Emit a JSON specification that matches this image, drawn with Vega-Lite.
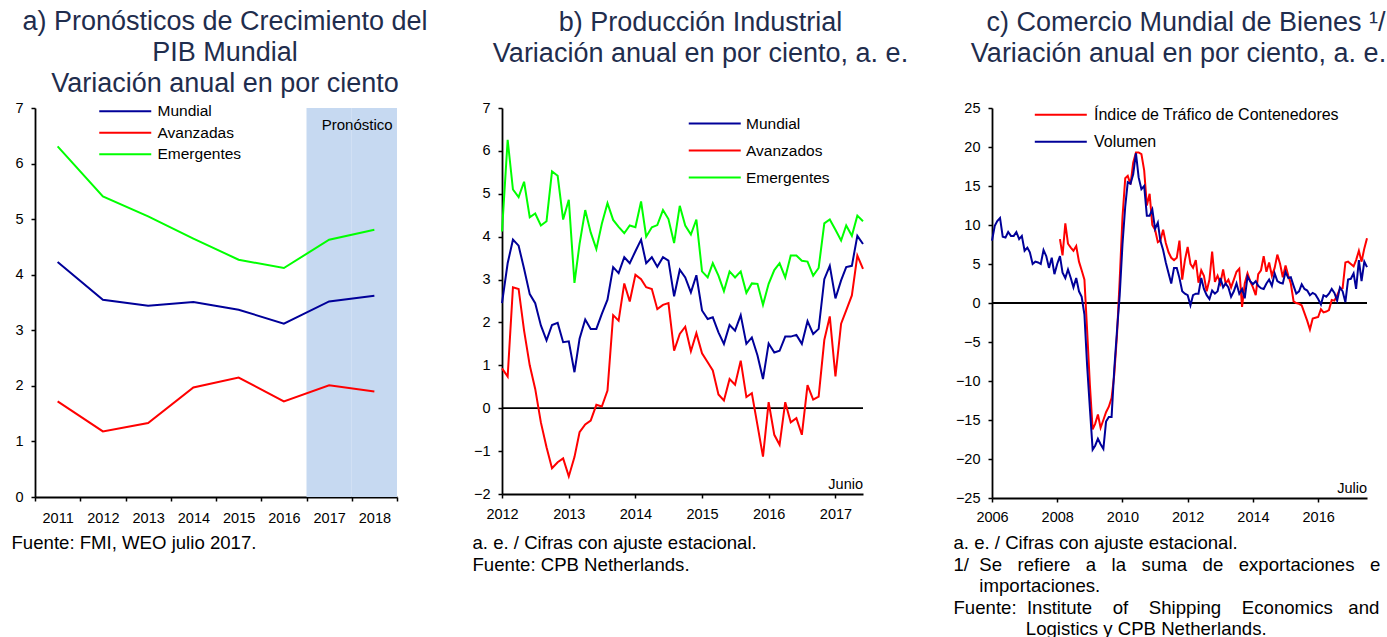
{
  "$schema": "https://vega.github.io/schema/vega-lite/v6.json",
  "background": "white",
  "padding": {"left": 11, "top": 8, "right": 0, "bottom": 0},
  "spacing": 44,
  "bounds": "full",
  "datasets": {
    "pib": [
      {"anio": "2011", "Mundial": 4.23, "Avanzadas": 1.72, "Emergentes": 6.31},
      {"anio": "2012", "Mundial": 3.55, "Avanzadas": 1.18, "Emergentes": 5.41},
      {"anio": "2013", "Mundial": 3.44, "Avanzadas": 1.33, "Emergentes": 5.05},
      {"anio": "2014", "Mundial": 3.51, "Avanzadas": 1.97, "Emergentes": 4.65},
      {"anio": "2015", "Mundial": 3.37, "Avanzadas": 2.15, "Emergentes": 4.27},
      {"anio": "2016", "Mundial": 3.12, "Avanzadas": 1.72, "Emergentes": 4.12},
      {"anio": "2017", "Mundial": 3.52, "Avanzadas": 2.01, "Emergentes": 4.63},
      {"anio": "2018", "Mundial": 3.62, "Avanzadas": 1.90, "Emergentes": 4.81}
    ],
    "pronostico": [
      {"anio": "2017", "etiqueta": "Pronóstico"},
      {"anio": "2018", "etiqueta": "Pronóstico"}
    ],
    "industrial": [
      {"fecha": "2012-01-01", "Mundial": 2.45, "Avanzados": 0.93, "Emergentes": 4.12},
      {"fecha": "2012-02-01", "Mundial": 3.38, "Avanzados": 0.74, "Emergentes": 6.26},
      {"fecha": "2012-03-01", "Mundial": 3.93, "Avanzados": 2.82, "Emergentes": 5.10},
      {"fecha": "2012-04-01", "Mundial": 3.79, "Avanzados": 2.78, "Emergentes": 4.92},
      {"fecha": "2012-05-01", "Mundial": 3.25, "Avanzados": 1.81, "Emergentes": 5.28},
      {"fecha": "2012-06-01", "Mundial": 2.66, "Avanzados": 1.00, "Emergentes": 4.45},
      {"fecha": "2012-07-01", "Mundial": 2.45, "Avanzados": 0.45, "Emergentes": 4.54},
      {"fecha": "2012-08-01", "Mundial": 1.93, "Avanzados": -0.33, "Emergentes": 4.26},
      {"fecha": "2012-09-01", "Mundial": 1.58, "Avanzados": -0.91, "Emergentes": 4.36},
      {"fecha": "2012-10-01", "Mundial": 1.94, "Avanzados": -1.40, "Emergentes": 5.52},
      {"fecha": "2012-11-01", "Mundial": 1.99, "Avanzados": -1.26, "Emergentes": 5.42},
      {"fecha": "2012-12-01", "Mundial": 1.54, "Avanzados": -1.17, "Emergentes": 4.40},
      {"fecha": "2013-01-01", "Mundial": 1.56, "Avanzados": -1.59, "Emergentes": 4.86},
      {"fecha": "2013-02-01", "Mundial": 0.84, "Avanzados": -1.14, "Emergentes": 2.92},
      {"fecha": "2013-03-01", "Mundial": 1.62, "Avanzados": -0.56, "Emergentes": 3.83},
      {"fecha": "2013-04-01", "Mundial": 2.07, "Avanzados": -0.38, "Emergentes": 4.62},
      {"fecha": "2013-05-01", "Mundial": 1.85, "Avanzados": -0.29, "Emergentes": 4.10},
      {"fecha": "2013-06-01", "Mundial": 1.85, "Avanzados": 0.08, "Emergentes": 3.71},
      {"fecha": "2013-07-01", "Mundial": 2.20, "Avanzados": 0.04, "Emergentes": 4.30},
      {"fecha": "2013-08-01", "Mundial": 2.53, "Avanzados": 0.41, "Emergentes": 4.78},
      {"fecha": "2013-09-01", "Mundial": 3.29, "Avanzados": 2.17, "Emergentes": 4.39},
      {"fecha": "2013-10-01", "Mundial": 3.15, "Avanzados": 2.04, "Emergentes": 4.23},
      {"fecha": "2013-11-01", "Mundial": 3.52, "Avanzados": 2.91, "Emergentes": 4.08},
      {"fecha": "2013-12-01", "Mundial": 3.38, "Avanzados": 2.49, "Emergentes": 4.26},
      {"fecha": "2014-01-01", "Mundial": 3.66, "Avanzados": 3.11, "Emergentes": 4.22},
      {"fecha": "2014-02-01", "Mundial": 3.93, "Avanzados": 3.01, "Emergentes": 4.82},
      {"fecha": "2014-03-01", "Mundial": 3.38, "Avanzados": 2.82, "Emergentes": 4.00},
      {"fecha": "2014-04-01", "Mundial": 3.52, "Avanzados": 2.78, "Emergentes": 4.22},
      {"fecha": "2014-05-01", "Mundial": 3.30, "Avanzados": 2.31, "Emergentes": 4.27},
      {"fecha": "2014-06-01", "Mundial": 3.52, "Avanzados": 2.41, "Emergentes": 4.62},
      {"fecha": "2014-07-01", "Mundial": 3.44, "Avanzados": 2.45, "Emergentes": 4.41},
      {"fecha": "2014-08-01", "Mundial": 2.61, "Avanzados": 1.34, "Emergentes": 3.85},
      {"fecha": "2014-09-01", "Mundial": 3.23, "Avanzados": 1.73, "Emergentes": 4.72},
      {"fecha": "2014-10-01", "Mundial": 3.05, "Avanzados": 1.90, "Emergentes": 4.26},
      {"fecha": "2014-11-01", "Mundial": 2.70, "Avanzados": 1.33, "Emergentes": 4.05},
      {"fecha": "2014-12-01", "Mundial": 3.10, "Avanzados": 1.75, "Emergentes": 4.40},
      {"fecha": "2015-01-01", "Mundial": 2.28, "Avanzados": 1.28, "Emergentes": 3.19},
      {"fecha": "2015-02-01", "Mundial": 2.08, "Avanzados": 1.07, "Emergentes": 3.05},
      {"fecha": "2015-03-01", "Mundial": 2.12, "Avanzados": 0.88, "Emergentes": 3.38},
      {"fecha": "2015-04-01", "Mundial": 1.77, "Avanzados": 0.32, "Emergentes": 3.09},
      {"fecha": "2015-05-01", "Mundial": 1.50, "Avanzados": 0.18, "Emergentes": 2.73},
      {"fecha": "2015-06-01", "Mundial": 1.94, "Avanzados": 0.68, "Emergentes": 3.19},
      {"fecha": "2015-07-01", "Mundial": 1.81, "Avanzados": 0.55, "Emergentes": 3.05},
      {"fecha": "2015-08-01", "Mundial": 2.17, "Avanzados": 1.11, "Emergentes": 3.19},
      {"fecha": "2015-09-01", "Mundial": 1.50, "Avanzados": 0.26, "Emergentes": 2.69},
      {"fecha": "2015-10-01", "Mundial": 1.65, "Avanzados": 0.35, "Emergentes": 2.91},
      {"fecha": "2015-11-01", "Mundial": 1.23, "Avanzados": -0.40, "Emergentes": 2.90},
      {"fecha": "2015-12-01", "Mundial": 0.68, "Avanzados": -1.13, "Emergentes": 2.41},
      {"fecha": "2016-01-01", "Mundial": 1.51, "Avanzados": 0.14, "Emergentes": 2.90},
      {"fecha": "2016-02-01", "Mundial": 1.30, "Avanzados": -0.62, "Emergentes": 3.22},
      {"fecha": "2016-03-01", "Mundial": 1.34, "Avanzados": -0.85, "Emergentes": 3.38},
      {"fecha": "2016-04-01", "Mundial": 1.67, "Avanzados": 0.14, "Emergentes": 3.05},
      {"fecha": "2016-05-01", "Mundial": 1.67, "Avanzados": -0.33, "Emergentes": 3.56},
      {"fecha": "2016-06-01", "Mundial": 1.71, "Avanzados": -0.23, "Emergentes": 3.56},
      {"fecha": "2016-07-01", "Mundial": 1.50, "Avanzados": -0.62, "Emergentes": 3.44},
      {"fecha": "2016-08-01", "Mundial": 2.03, "Avanzados": 0.54, "Emergentes": 3.42},
      {"fecha": "2016-09-01", "Mundial": 1.73, "Avanzados": 0.20, "Emergentes": 3.09},
      {"fecha": "2016-10-01", "Mundial": 1.85, "Avanzados": 0.27, "Emergentes": 3.27},
      {"fecha": "2016-11-01", "Mundial": 3.01, "Avanzados": 1.59, "Emergentes": 4.31},
      {"fecha": "2016-12-01", "Mundial": 3.32, "Avanzados": 2.14, "Emergentes": 4.40},
      {"fecha": "2017-01-01", "Mundial": 2.56, "Avanzados": 0.74, "Emergentes": 4.16},
      {"fecha": "2017-02-01", "Mundial": 2.98, "Avanzados": 1.97, "Emergentes": 3.91},
      {"fecha": "2017-03-01", "Mundial": 3.29, "Avanzados": 2.28, "Emergentes": 4.26},
      {"fecha": "2017-04-01", "Mundial": 3.32, "Avanzados": 2.63, "Emergentes": 4.02},
      {"fecha": "2017-05-01", "Mundial": 4.02, "Avanzados": 3.56, "Emergentes": 4.49},
      {"fecha": "2017-06-01", "Mundial": 3.83, "Avanzados": 3.25, "Emergentes": 4.36}
    ],
    "comercio": [
      {"fecha": "2006-01-01", "Volumen": 8.0, "ITC": null},
      {"fecha": "2006-02-01", "Volumen": 9.9, "ITC": null},
      {"fecha": "2006-03-01", "Volumen": 10.5, "ITC": null},
      {"fecha": "2006-04-01", "Volumen": 10.9, "ITC": null},
      {"fecha": "2006-05-01", "Volumen": 8.5, "ITC": null},
      {"fecha": "2006-06-01", "Volumen": 8.4, "ITC": null},
      {"fecha": "2006-07-01", "Volumen": 9.1, "ITC": null},
      {"fecha": "2006-08-01", "Volumen": 8.6, "ITC": null},
      {"fecha": "2006-09-01", "Volumen": 8.6, "ITC": null},
      {"fecha": "2006-10-01", "Volumen": 9.1, "ITC": null},
      {"fecha": "2006-11-01", "Volumen": 8.2, "ITC": null},
      {"fecha": "2006-12-01", "Volumen": 8.6, "ITC": null},
      {"fecha": "2007-01-01", "Volumen": 6.7, "ITC": null},
      {"fecha": "2007-02-01", "Volumen": 7.1, "ITC": null},
      {"fecha": "2007-03-01", "Volumen": 6.5, "ITC": null},
      {"fecha": "2007-04-01", "Volumen": 5.0, "ITC": null},
      {"fecha": "2007-05-01", "Volumen": 5.3, "ITC": null},
      {"fecha": "2007-06-01", "Volumen": 5.2, "ITC": null},
      {"fecha": "2007-07-01", "Volumen": 5.0, "ITC": null},
      {"fecha": "2007-08-01", "Volumen": 6.8, "ITC": null},
      {"fecha": "2007-09-01", "Volumen": 6.0, "ITC": null},
      {"fecha": "2007-10-01", "Volumen": 4.5, "ITC": null},
      {"fecha": "2007-11-01", "Volumen": 5.8, "ITC": null},
      {"fecha": "2007-12-01", "Volumen": 3.7, "ITC": null},
      {"fecha": "2008-01-01", "Volumen": 5.0, "ITC": null},
      {"fecha": "2008-02-01", "Volumen": 6.0, "ITC": 8.2},
      {"fecha": "2008-03-01", "Volumen": 3.9, "ITC": 6.1},
      {"fecha": "2008-04-01", "Volumen": 3.2, "ITC": 10.2},
      {"fecha": "2008-05-01", "Volumen": 4.3, "ITC": 7.6},
      {"fecha": "2008-06-01", "Volumen": 3.2, "ITC": 7.1},
      {"fecha": "2008-07-01", "Volumen": 2.0, "ITC": 6.7},
      {"fecha": "2008-08-01", "Volumen": 3.2, "ITC": 7.3},
      {"fecha": "2008-09-01", "Volumen": 1.5, "ITC": 5.3},
      {"fecha": "2008-10-01", "Volumen": 0.8, "ITC": 4.2},
      {"fecha": "2008-11-01", "Volumen": -1.5, "ITC": 3.0},
      {"fecha": "2008-12-01", "Volumen": -8.0, "ITC": -3.5},
      {"fecha": "2009-01-01", "Volumen": -13.5, "ITC": -10.5},
      {"fecha": "2009-02-01", "Volumen": -18.8, "ITC": -16.2},
      {"fecha": "2009-03-01", "Volumen": -18.3, "ITC": -15.5},
      {"fecha": "2009-04-01", "Volumen": -17.4, "ITC": -14.3},
      {"fecha": "2009-05-01", "Volumen": -18.1, "ITC": -16.0},
      {"fecha": "2009-06-01", "Volumen": -18.7, "ITC": -15.0},
      {"fecha": "2009-07-01", "Volumen": -15.2, "ITC": -14.0},
      {"fecha": "2009-08-01", "Volumen": -14.6, "ITC": -13.3},
      {"fecha": "2009-09-01", "Volumen": -14.6, "ITC": -12.2},
      {"fecha": "2009-10-01", "Volumen": -8.5, "ITC": -9.2},
      {"fecha": "2009-11-01", "Volumen": -3.5, "ITC": -4.0},
      {"fecha": "2009-12-01", "Volumen": 1.0, "ITC": 3.0},
      {"fecha": "2010-01-01", "Volumen": 7.5, "ITC": 11.0},
      {"fecha": "2010-02-01", "Volumen": 12.4, "ITC": 16.0},
      {"fecha": "2010-03-01", "Volumen": 15.5, "ITC": 16.3},
      {"fecha": "2010-04-01", "Volumen": 15.3, "ITC": 15.2},
      {"fecha": "2010-05-01", "Volumen": 16.5, "ITC": 18.0},
      {"fecha": "2010-06-01", "Volumen": 19.2, "ITC": 19.3},
      {"fecha": "2010-07-01", "Volumen": 16.1, "ITC": 19.3},
      {"fecha": "2010-08-01", "Volumen": 14.6, "ITC": 19.1},
      {"fecha": "2010-09-01", "Volumen": 15.0, "ITC": 17.0},
      {"fecha": "2010-10-01", "Volumen": 11.2, "ITC": 12.5},
      {"fecha": "2010-11-01", "Volumen": 11.2, "ITC": 14.0},
      {"fecha": "2010-12-01", "Volumen": 12.0, "ITC": 10.0},
      {"fecha": "2011-01-01", "Volumen": 9.5, "ITC": 9.4},
      {"fecha": "2011-02-01", "Volumen": 10.3, "ITC": 7.8},
      {"fecha": "2011-03-01", "Volumen": 8.0, "ITC": 8.0},
      {"fecha": "2011-04-01", "Volumen": 6.8, "ITC": 9.4},
      {"fecha": "2011-05-01", "Volumen": 5.2, "ITC": 7.7},
      {"fecha": "2011-06-01", "Volumen": 3.8, "ITC": 6.5},
      {"fecha": "2011-07-01", "Volumen": 2.5, "ITC": 5.8},
      {"fecha": "2011-08-01", "Volumen": 4.5, "ITC": 5.5},
      {"fecha": "2011-09-01", "Volumen": 4.5, "ITC": 5.8},
      {"fecha": "2011-10-01", "Volumen": 3.2, "ITC": 8.0},
      {"fecha": "2011-11-01", "Volumen": 1.5, "ITC": 3.0},
      {"fecha": "2011-12-01", "Volumen": 1.2, "ITC": 5.5},
      {"fecha": "2012-01-01", "Volumen": 1.0, "ITC": 7.2},
      {"fecha": "2012-02-01", "Volumen": -0.3, "ITC": 5.0},
      {"fecha": "2012-03-01", "Volumen": 1.0, "ITC": 4.5},
      {"fecha": "2012-04-01", "Volumen": 1.2, "ITC": 5.5},
      {"fecha": "2012-05-01", "Volumen": 1.2, "ITC": 2.6},
      {"fecha": "2012-06-01", "Volumen": 3.2, "ITC": 4.2},
      {"fecha": "2012-07-01", "Volumen": 1.8, "ITC": 3.5},
      {"fecha": "2012-08-01", "Volumen": 1.0, "ITC": 1.5},
      {"fecha": "2012-09-01", "Volumen": 0.5, "ITC": 3.0},
      {"fecha": "2012-10-01", "Volumen": 1.6, "ITC": 6.6},
      {"fecha": "2012-11-01", "Volumen": 1.2, "ITC": 2.7},
      {"fecha": "2012-12-01", "Volumen": 1.5, "ITC": 3.5},
      {"fecha": "2013-01-01", "Volumen": 3.2, "ITC": 2.5},
      {"fecha": "2013-02-01", "Volumen": 2.0, "ITC": 4.3},
      {"fecha": "2013-03-01", "Volumen": 2.5, "ITC": 2.5},
      {"fecha": "2013-04-01", "Volumen": 2.0, "ITC": 3.0},
      {"fecha": "2013-05-01", "Volumen": 0.8, "ITC": 2.0},
      {"fecha": "2013-06-01", "Volumen": 1.5, "ITC": 3.0},
      {"fecha": "2013-07-01", "Volumen": 2.5, "ITC": 4.0},
      {"fecha": "2013-08-01", "Volumen": 1.2, "ITC": 4.4},
      {"fecha": "2013-09-01", "Volumen": 1.8, "ITC": -0.5},
      {"fecha": "2013-10-01", "Volumen": 0.6, "ITC": 2.5},
      {"fecha": "2013-11-01", "Volumen": 3.4, "ITC": 3.8},
      {"fecha": "2013-12-01", "Volumen": 2.8, "ITC": 2.8},
      {"fecha": "2014-01-01", "Volumen": 2.4, "ITC": 2.0},
      {"fecha": "2014-02-01", "Volumen": 2.8, "ITC": 1.0},
      {"fecha": "2014-03-01", "Volumen": 2.2, "ITC": 3.7},
      {"fecha": "2014-04-01", "Volumen": 1.9, "ITC": 4.2},
      {"fecha": "2014-05-01", "Volumen": 1.8, "ITC": 6.0},
      {"fecha": "2014-06-01", "Volumen": 2.5, "ITC": 4.0},
      {"fecha": "2014-07-01", "Volumen": 3.0, "ITC": 5.2},
      {"fecha": "2014-08-01", "Volumen": 2.2, "ITC": 3.5},
      {"fecha": "2014-09-01", "Volumen": 3.8, "ITC": 4.5},
      {"fecha": "2014-10-01", "Volumen": 2.8, "ITC": 6.2},
      {"fecha": "2014-11-01", "Volumen": 2.6, "ITC": 5.0},
      {"fecha": "2014-12-01", "Volumen": 2.5, "ITC": 3.3},
      {"fecha": "2015-01-01", "Volumen": 4.0, "ITC": 4.8},
      {"fecha": "2015-02-01", "Volumen": 3.2, "ITC": 3.5},
      {"fecha": "2015-03-01", "Volumen": 3.3, "ITC": 2.5},
      {"fecha": "2015-04-01", "Volumen": 2.2, "ITC": 0.2},
      {"fecha": "2015-05-01", "Volumen": 1.2, "ITC": 0.0},
      {"fecha": "2015-06-01", "Volumen": 1.5, "ITC": -0.1},
      {"fecha": "2015-07-01", "Volumen": 2.4, "ITC": -0.3},
      {"fecha": "2015-08-01", "Volumen": 1.8, "ITC": -1.3},
      {"fecha": "2015-09-01", "Volumen": 1.6, "ITC": -2.3},
      {"fecha": "2015-10-01", "Volumen": 1.0, "ITC": -3.4},
      {"fecha": "2015-11-01", "Volumen": 1.3, "ITC": -2.0},
      {"fecha": "2015-12-01", "Volumen": 1.1, "ITC": -1.9},
      {"fecha": "2016-01-01", "Volumen": 0.5, "ITC": -1.8},
      {"fecha": "2016-02-01", "Volumen": -0.2, "ITC": -0.8},
      {"fecha": "2016-03-01", "Volumen": 1.0, "ITC": -1.2},
      {"fecha": "2016-04-01", "Volumen": 0.8, "ITC": -1.1},
      {"fecha": "2016-05-01", "Volumen": 1.2, "ITC": -0.9},
      {"fecha": "2016-06-01", "Volumen": 1.8, "ITC": 0.4},
      {"fecha": "2016-07-01", "Volumen": 1.3, "ITC": 0.3},
      {"fecha": "2016-08-01", "Volumen": 0.3, "ITC": 1.0},
      {"fecha": "2016-09-01", "Volumen": 2.0, "ITC": 1.8},
      {"fecha": "2016-10-01", "Volumen": 1.5, "ITC": 1.9},
      {"fecha": "2016-11-01", "Volumen": 0.1, "ITC": 5.2},
      {"fecha": "2016-12-01", "Volumen": 3.0, "ITC": 5.3},
      {"fecha": "2017-01-01", "Volumen": 3.1, "ITC": 5.0},
      {"fecha": "2017-02-01", "Volumen": 3.8, "ITC": 4.7},
      {"fecha": "2017-03-01", "Volumen": 1.8, "ITC": 5.5},
      {"fecha": "2017-04-01", "Volumen": 5.5, "ITC": 6.7},
      {"fecha": "2017-05-01", "Volumen": 2.8, "ITC": 5.3},
      {"fecha": "2017-06-01", "Volumen": 5.3, "ITC": 7.0},
      {"fecha": "2017-07-01", "Volumen": 4.6, "ITC": 8.3}
    ]
  },
  "resolve": {
    "scale": {"color": "independent", "x": "independent", "y": "independent"},
    "legend": {"color": "independent"}
  },
  "hconcat": [
    {
      "width": 362,
      "height": 389,
      "title": {
        "text": ["a) Pronósticos de Crecimiento del", "PIB Mundial", "Variación anual en por ciento"],
        "offset": 2,
        "dx": 9
      },
      "layer": [
        {
          "data": {"name": "pronostico"},
          "mark": {"type": "bar", "color": "#c6d9f1", "width": {"band": 1}},
          "encoding": {
            "x": {
              "field": "anio",
              "type": "ordinal",
              "scale": {"type": "band", "domain": ["2011", "2012", "2013", "2014", "2015", "2016", "2017", "2018"], "paddingInner": 0, "paddingOuter": 0},
              "axis": {
                "labelAngle": 0,
                "tickBand": "extent",
                "labelPadding": 10,
                "title": "Fuente: FMI, WEO julio 2017.",
                "titleAnchor": "start",
                "titleAlign": "left",
                "titleX": -24,
                "titlePadding": 9
              }
            },
            "y": {
              "datum": 7,
              "type": "quantitative",
              "scale": {"domain": [0, 7], "nice": false},
              "axis": {"values": [0, 1, 2, 3, 4, 5, 6, 7], "tickCount": 12, "format": "d", "labelOverlap": false, "title": null, "labelPadding": 8}
            }
          }
        },
        {
          "data": {"name": "pib"},
          "transform": [{"fold": ["Mundial", "Avanzadas", "Emergentes"], "as": ["serie", "valor"]}],
          "mark": {"type": "line", "strokeWidth": 2},
          "encoding": {
            "x": {"field": "anio", "type": "ordinal", "bandPosition": 0.5},
            "y": {"field": "valor", "type": "quantitative"},
            "color": {
              "field": "serie",
              "type": "nominal",
              "scale": {"domain": ["Mundial", "Avanzadas", "Emergentes"], "range": ["#000099", "#ff0000", "#00ff00"]},
              "legend": {
                "orient": "none",
                "direction": "vertical",
                "legendX": 82.5,
                "legendY": -4.5,
                "title": null,
                "padding": 0,
                "symbolType": "M-4,0H4",
                "symbolSize": 169,
                "symbolStrokeWidth": 2,
                "labelOffset": 24.5,
                "rowPadding": 4.5,
                "labelFontSize": 15.5,
                "labelLimit": 0
              }
            }
          }
        },
        {
          "data": {"values": [{"etiqueta": "Pronóstico"}]},
          "mark": {"type": "text", "fontSize": 15, "align": "center", "baseline": "middle", "color": "#000"},
          "encoding": {
            "x": {"datum": "2018", "type": "ordinal", "bandPosition": 0.12},
            "y": {"datum": 6.7, "type": "quantitative"},
            "text": {"field": "etiqueta"}
          }
        }
      ]
    },
    {
      "width": 361,
      "height": 386,
      "title": {
        "text": ["b) Producción Industrial", "Variación anual en por ciento, a. e."],
        "offset": 32,
        "dx": 18
      },
      "layer": [
        {
          "data": {"values": [{}]},
          "mark": {"type": "rule", "color": "#000", "strokeWidth": 1.8},
          "encoding": {
            "y": {
              "datum": 0,
              "type": "quantitative",
              "scale": {"domain": [-2, 7], "nice": false},
              "axis": {"values": [-2, -1, 0, 1, 2, 3, 4, 5, 6, 7], "tickCount": 12, "format": "d", "labelOverlap": false, "title": null, "labelPadding": 8}
            }
          }
        },
        {
          "data": {"name": "industrial"},
          "transform": [{"fold": ["Mundial", "Avanzados", "Emergentes"], "as": ["serie", "valor"]}],
          "mark": {"type": "line", "strokeWidth": 2},
          "encoding": {
            "x": {
              "field": "fecha",
              "type": "temporal",
              "scale": {"type": "utc", "domain": [{"year": 2012, "month": 1, "date": 1, "utc": true}, {"year": 2017, "month": 6, "date": 1, "utc": true}]},
              "axis": {
                "format": "%Y",
                "tickCount": {"interval": "year", "step": 1},
                "labelFlush": false,
                "labelPadding": 9,
                "title": ["a. e. / Cifras con ajuste estacional.", "Fuente: CPB Netherlands."],
                "titleAnchor": "start",
                "titleAlign": "left",
                "titleX": -30,
                "titlePadding": 13
              }
            },
            "y": {
              "field": "valor",
              "type": "quantitative",
              "scale": {"domain": [-2, 7], "nice": false},
              "axis": {"values": [-2, -1, 0, 1, 2, 3, 4, 5, 6, 7], "tickCount": 12, "format": "d", "labelOverlap": false, "title": null, "labelPadding": 8}
            },
            "color": {
              "field": "serie",
              "type": "nominal",
              "scale": {"domain": ["Mundial", "Avanzados", "Emergentes"], "range": ["#000099", "#ff0000", "#00ff00"]},
              "legend": {
                "orient": "none",
                "direction": "vertical",
                "legendX": 205,
                "legendY": 7.8,
                "title": null,
                "padding": 0,
                "symbolType": "M-4,0H4",
                "symbolSize": 169,
                "symbolStrokeWidth": 2,
                "labelOffset": 23.5,
                "rowPadding": 10,
                "labelFontSize": 15.5,
                "labelLimit": 0
              }
            }
          }
        },
        {
          "data": {"values": [{"nota": "Junio"}]},
          "mark": {"type": "text", "fontSize": 14.5, "align": "right", "baseline": "bottom", "dy": -2, "color": "#000"},
          "encoding": {
            "x": {"datum": {"year": 2017, "month": 6, "date": 1, "utc": true}, "type": "temporal"},
            "y": {"datum": -2, "type": "quantitative"},
            "text": {"field": "nota"}
          }
        }
      ]
    },
    {
      "width": 375,
      "height": 390,
      "title": {
        "text": ["\u200b\u00a0\u00a0c) Comercio Mundial de Bienes ¹/", "Variación anual en por ciento, a. e."],
        "offset": 32,
        "dx": -1
      },
      "layer": [
        {
          "data": {"values": [{}]},
          "mark": {"type": "rule", "color": "#000", "strokeWidth": 1.8},
          "encoding": {
            "y": {
              "datum": 0,
              "type": "quantitative",
              "scale": {"domain": [-25, 25], "nice": false},
              "axis": {"values": [-25, -20, -15, -10, -5, 0, 5, 10, 15, 20, 25], "tickCount": 12, "format": "d", "labelOverlap": false, "title": null, "labelPadding": 8}
            }
          }
        },
        {
          "data": {"name": "comercio"},
          "transform": [{"fold": ["ITC", "Volumen"], "as": ["serie", "valor"]}],
          "mark": {"type": "line", "strokeWidth": 2},
          "encoding": {
            "x": {
              "field": "fecha",
              "type": "temporal",
              "scale": {"type": "utc", "domain": [{"year": 2006, "month": 1, "date": 1, "utc": true}, {"year": 2017, "month": 7, "date": 1, "utc": true}]},
              "axis": {
                "format": "%Y",
                "tickCount": {"interval": "year", "step": 2},
                "labelFlush": false,
                "labelPadding": 8,
                "title": [
                  "a. e. / Cifras con ajuste estacional.",
                  "1/\u00a0\u00a0Se\u00a0\u00a0\u00a0refiere\u00a0\u00a0\u00a0a\u00a0\u00a0\u00a0la\u00a0\u00a0\u00a0suma\u00a0\u00a0\u00a0de\u00a0\u00a0\u00a0exportaciones\u00a0\u00a0\u00a0e",
                  "\u200b\u00a0\u00a0\u00a0\u00a0\u00a0importaciones.",
                  "Fuente:\u00a0\u00a0Institute\u00a0\u00a0\u00a0\u00a0of\u00a0\u00a0\u00a0\u00a0Shipping\u00a0\u00a0\u00a0\u00a0Economics\u00a0\u00a0\u00a0and",
                  "\u200b\u00a0\u00a0\u00a0\u00a0\u00a0\u00a0\u00a0\u00a0\u00a0\u00a0\u00a0\u00a0\u00a0\u00a0Logistics y CPB Netherlands."
                ],
                "titleAnchor": "start",
                "titleAlign": "left",
                "titleX": -39,
                "titlePadding": 10
              }
            },
            "y": {
              "field": "valor",
              "type": "quantitative",
              "scale": {"domain": [-25, 25], "nice": false},
              "axis": {"values": [-25, -20, -15, -10, -5, 0, 5, 10, 15, 20, 25], "tickCount": 12, "format": "d", "labelOverlap": false, "title": null, "labelPadding": 8}
            },
            "color": {
              "field": "serie",
              "type": "nominal",
              "scale": {"domain": ["ITC", "Volumen"], "range": ["#ff0000", "#000099"]},
              "legend": {
                "orient": "none",
                "direction": "vertical",
                "legendX": 60.8,
                "legendY": -1.2,
                "title": null,
                "padding": 0,
                "symbolType": "M-4,0H4",
                "symbolSize": 169,
                "symbolStrokeWidth": 2,
                "labelOffset": 25.2,
                "rowPadding": 11,
                "labelFontSize": 16,
                "labelLimit": 0,
                "labelExpr": "datum.label == 'ITC' ? 'Índice de Tráfico de Contenedores' : datum.label"
              }
            }
          }
        },
        {
          "data": {"values": [{"nota": "Julio"}]},
          "mark": {"type": "text", "fontSize": 14.5, "align": "right", "baseline": "bottom", "dy": -2, "color": "#000"},
          "encoding": {
            "x": {"datum": {"year": 2017, "month": 7, "date": 1, "utc": true}, "type": "temporal"},
            "y": {"datum": -25, "type": "quantitative"},
            "text": {"field": "nota"}
          }
        }
      ]
    }
  ],
  "config": {
    "view": {"stroke": null},
    "font": "Liberation Sans",
    "axis": {
      "labelFont": "Liberation Sans",
      "labelFontSize": 14.5,
      "labelColor": "#000",
      "labelOverlap": false,
      "domainColor": "#000",
      "domainWidth": 1.8,
      "tickColor": "#000",
      "tickWidth": 1.5,
      "tickSize": 4,
      "grid": false,
      "titleFont": "Liberation Sans",
      "titleFontWeight": "normal",
      "titleFontSize": 18.6,
      "titleColor": "#000",
      "titleLineHeight": 21.5
    },
    "legend": {
      "labelFont": "Liberation Sans",
      "labelColor": "#000"
    },
    "title": {
      "font": "Liberation Sans",
      "fontSize": 27,
      "fontWeight": "normal",
      "color": "#1f2d4d",
      "anchor": "middle",
      "frame": "group",
      "lineHeight": 31,
      "baseline": "bottom"
    },
    "text": {"font": "Liberation Sans"}
  }
}
